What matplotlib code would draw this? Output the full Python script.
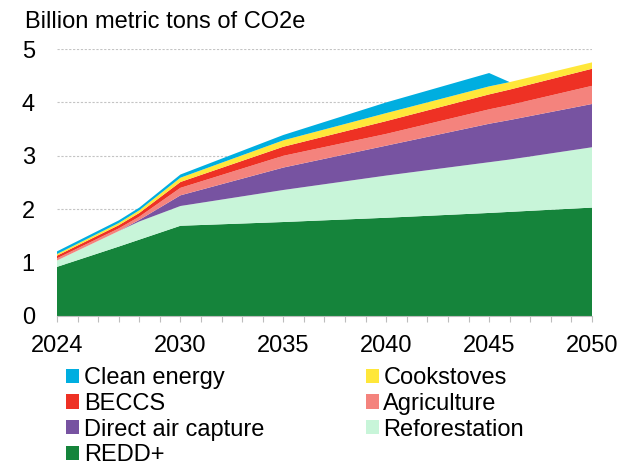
import numpy as np
import matplotlib
matplotlib.use('Agg')
import matplotlib.pyplot as plt
from matplotlib.patches import Patch

plt.rcParams['font.family'] = ['Liberation Sans', 'DejaVu Sans']

### data (billion metric tons CO2e)
years = [2024, 2027, 2028, 2030, 2035, 2040, 2045, 2046, 2050]
redd = [0.92, 1.30, 1.43, 1.69, 1.76, 1.84, 1.93, 1.95, 2.03]
reforestation = [0.12, 0.29, 0.34, 0.37, 0.60, 0.79, 0.95, 0.98, 1.13]
direct_air = [0.00, 0.00, 0.03, 0.20, 0.42, 0.56, 0.72, 0.74, 0.81]
agriculture = [0.04, 0.05, 0.06, 0.14, 0.22, 0.22, 0.27, 0.28, 0.34]
beccs = [0.05, 0.06, 0.07, 0.11, 0.17, 0.24, 0.28, 0.29, 0.32]
cookstoves = [0.03, 0.04, 0.05, 0.08, 0.12, 0.15, 0.15, 0.14, 0.12]
clean_energy = [0.05, 0.05, 0.05, 0.06, 0.10, 0.20, 0.25, 0.00, 0.00]

labels = ['REDD+', 'Reforestation', 'Direct air capture', 'Agriculture',
          'BECCS', 'Cookstoves', 'Clean energy']
colors = ['#15843b', '#c8f5d9', '#7753a1', '#f4837d', '#ee3124', '#ffe73a', '#00aee0']

x_labels = {2024: '2024', 2030: '2030', 2035: '2035', 2040: '2040', 2045: '2045', 2050: '2050'}

#########################PLOT #############################

fig = plt.figure(figsize=(6.33, 4.69), dpi=100)
ax = fig.add_axes([57 / 633, 1 - 316 / 469, 535 / 633, 267 / 469])

ax.stackplot(years, redd, reforestation, direct_air, agriculture, beccs,
             cookstoves, clean_energy, colors=colors, linewidth=0)

ax.set_xlim(2024, 2050)
ax.set_ylim(0, 5)

### dotted gridlines
for y in [1, 2, 3, 4, 5]:
    ax.axhline(y, color='#c4c4c4', lw=0.8, ls=(0, (2, 1.5)), zorder=0)

all_years = list(range(2024, 2051))
ax.set_xticks(all_years)
ax.set_xticklabels([x_labels.get(y, '') for y in all_years])
ax.set_yticks([0, 1, 2, 3, 4, 5])
ax.tick_params(axis='x', length=4.5, color='#bdbdbd', width=0.8, pad=9, labelsize=17)
ax.tick_params(axis='y', length=0, pad=16, labelsize=17)

for s in ['top', 'right', 'left']:
    ax.spines[s].set_visible(False)
ax.spines['bottom'].set_color('#bdbdbd')
ax.spines['bottom'].set_linewidth(0.8)

fig.text(25 / 633, 1 - 28 / 469, 'Billion metric tons of CO2e', fontsize=17, va='baseline')

### legend: 2 columns, filled column first
order = [6, 4, 2, 0, 5, 3, 1]
handles = [Patch(facecolor=colors[i], edgecolor='none') for i in order]
fig.legend(handles, [labels[i] for i in order], ncol=2, loc='upper left',
           bbox_to_anchor=(66 / 633, 1 - 367 / 469), frameon=False, fontsize=17,
           handlelength=0.55, handleheight=0.55, handletextpad=0.2,
           labelspacing=0.16, columnspacing=4.3, borderpad=0, borderaxespad=0)

fig.savefig('out.png', dpi=100)
